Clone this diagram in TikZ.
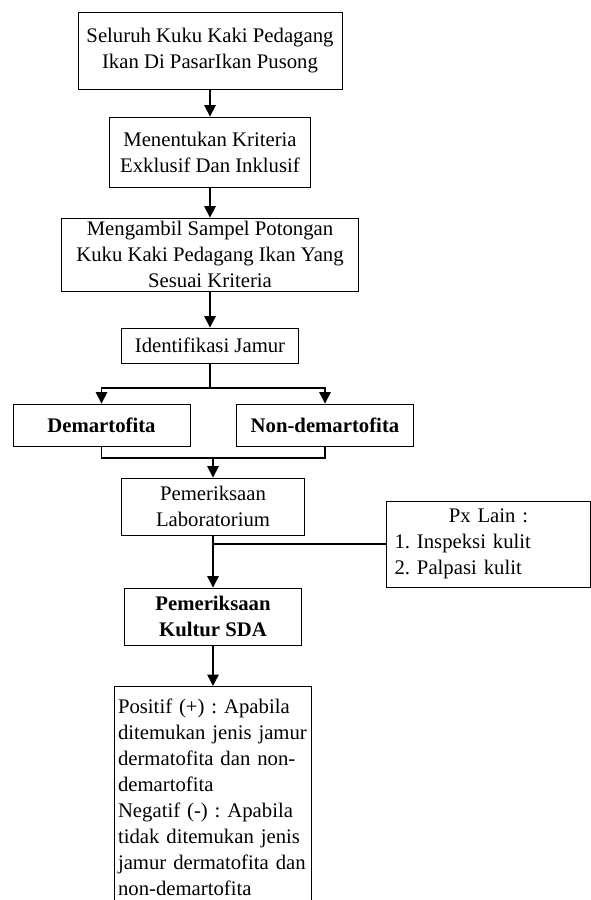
\documentclass[tikz,border=0pt]{standalone}
\usepackage{fontspec}
\setmainfont{Liberation Serif}
\usetikzlibrary{positioning,arrows.meta}
\frenchspacing

\begin{document}
\begin{tikzpicture} [x=0.02cm,y=-0.02cm,
	every node/.style={font=\fontsize{11.8}{14.8}\selectfont},
	kotak/.style={draw,line width=0.5pt,align=center,inner sep=0pt},
	garis/.style={line width=0.85pt},
	panah/.style={garis,-{Triangle[length=0.23cm,width=0.23cm]}}]

\clip (0,0) rectangle (591,900);

\node[kotak,minimum width=5.28cm,minimum height=1.54cm] (1) at (210,50.5) {Seluruh Kuku Kaki Pedagang\\Ikan Di PasarIkan Pusong};
\node[kotak,minimum width=4.02cm,minimum height=1.40cm] (2) at (210,152) {Menentukan Kriteria\\Exklusif Dan Inklusif};
\node[kotak,minimum width=5.94cm,minimum height=1.46cm] (3) at (210,254.5) {Mengambil Sampel Potongan\\Kuku Kaki Pedagang Ikan Yang\\Sesuai Kriteria};
\node[kotak,minimum width=3.54cm,minimum height=0.70cm] (4) at (210,345.5) {Identifikasi Jamur};
\node[kotak,minimum width=3.54cm,minimum height=0.84cm] (5) at (101.5,425) {\bfseries Demartofita};
\node[kotak,minimum width=3.54cm,minimum height=0.84cm] (6) at (325,425) {\bfseries Non-demartofita};
\node[kotak,minimum width=3.66cm,minimum height=1.14cm] (7) at (213,506.5) {Pemeriksaan\\Laboratorium};
\node[kotak,minimum width=3.54cm,minimum height=1.14cm] (8) at (213,616.5) {\bfseries Pemeriksaan\\\bfseries Kultur SDA};
\node[kotak,align=left,inner xsep=0.16cm,text width=3.76cm,minimum height=1.72cm] (p) at (488.5,544)
	{{\centering Px Lain :\par}1. Inspeksi kulit\\2. Palpasi kulit};
\node[kotak,align=left,anchor=north,inner xsep=0.07cm,inner ysep=0.24cm,text width=3.8cm] (9) at (213,686)
	{Positif (+) : Apabila\\ditemukan jenis jamur\\dermatofita dan non-\\demartofita\\Negatif (-) : Apabila\\tidak ditemukan jenis\\jamur dermatofita dan\\non-demartofita};

\foreach \a/\b in {1/2,2/3,3/4,7/8,8/9}{
	\draw[panah] (\a) -- (\b);
}
% cabang ke dua jenis jamur
\draw[garis] (4) -- (210,388) coordinate (c);
\draw[panah] (c) -| (5);
\draw[panah] (c) -| (6);
\coordinate (g) at (213,458);
\draw[garis] (5) |- (g) -| (6);
\draw[panah] (g) -- (7);
\draw[garis] (p.west) -- (p.west -| 7);

\end{tikzpicture}
\end{document}
